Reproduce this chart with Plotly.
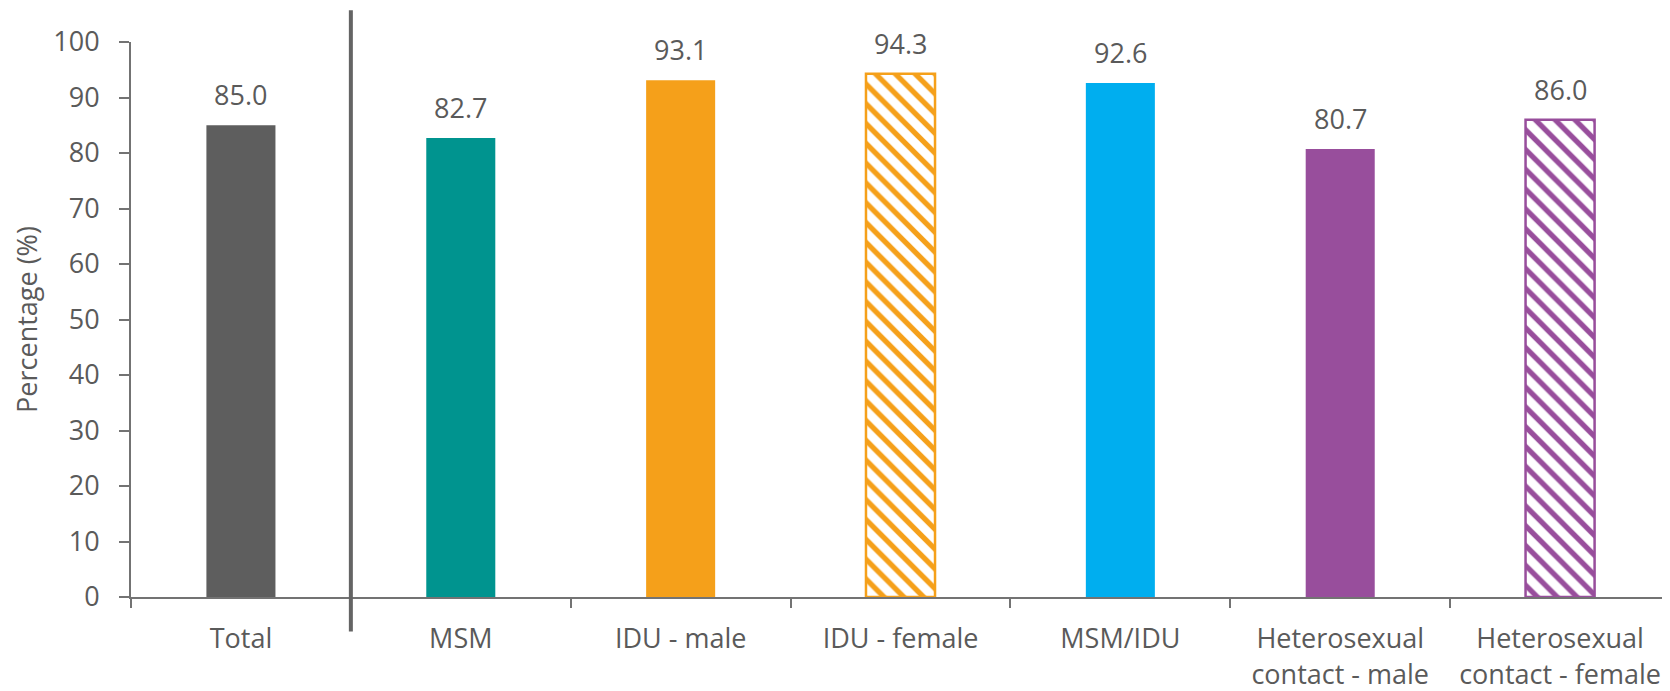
import plotly.graph_objects as go

categories = ["Total", "MSM", "IDU - male", "IDU - female", "MSM/IDU",
              "Heterosexual<br>contact - male", "Heterosexual<br>contact - female"]
values = [85.0, 82.7, 93.1, 94.3, 92.6, 80.7, 86.0]
colors = ["#5E5E5E", "#00948F", "#F5A01A", "#F5A01A", "#00AEEF", "#984E9C", "#984E9C"]
hatched = [False, False, False, True, False, False, True]
y_ticks = list(range(0, 101, 10))

FONT = "Open Sans"
TXT = "#5a5a5a"
AX = "#737373"

fig = go.Figure()
fig.add_trace(go.Bar(
    x=categories, y=values, width=0.314,
    marker=dict(
        color=colors,
        line=dict(color=colors, width=[2.5 if h else 0 for h in hatched]),
        pattern=dict(
            shape=[("\\" if h else "") for h in hatched],
            bgcolor="white", size=14, solidity=0.38,
            fillmode="replace",
        ),
    ),
    showlegend=False, hoverinfo="skip",
))

for c, v in zip(categories, values):
    fig.add_annotation(x=c, y=v, text=f"{v:.1f}", showarrow=False,
                       yanchor="bottom", yshift=11, borderpad=0,
                       font=dict(family=FONT, size=27, color=TXT))

# vertical separator between Total and subgroups
fig.add_shape(type="line", xref="x", yref="paper", x0=0.5, x1=0.5,
              y0=-0.062, y1=1.057, line=dict(color="#646464", width=4))

# page has an 8px body margin; figure sized/margined to compensate
fig.update_layout(
    width=1662, height=683,
    margin=dict(l=123, r=0, t=34, b=94, pad=0),
    paper_bgcolor="white", plot_bgcolor="white",
    font=dict(family=FONT, size=27, color=TXT),
)
fig.update_xaxes(
    type="category", tickson="boundaries", ticks="outside", ticklen=9,
    tickcolor=AX, tickwidth=2, showline=True, linecolor=AX, linewidth=2,
    tickfont=dict(family=FONT, size=27, color=TXT), showgrid=False,
    range=[-0.5, 6.5], ticklabelstandoff=17,
)
fig.update_yaxes(
    range=[0, 100], tickvals=y_ticks, ticks="outside", ticklen=10,
    tickcolor=AX, tickwidth=2, showline=True, linecolor=AX, linewidth=2,
    showgrid=False, zeroline=False, ticklabelstandoff=14,
    tickfont=dict(family=FONT, size=27, color=TXT),
    title=dict(text="Percentage (%)", font=dict(family=FONT, size=27, color=TXT), standoff=14),
)

fig.write_html("out.html")
